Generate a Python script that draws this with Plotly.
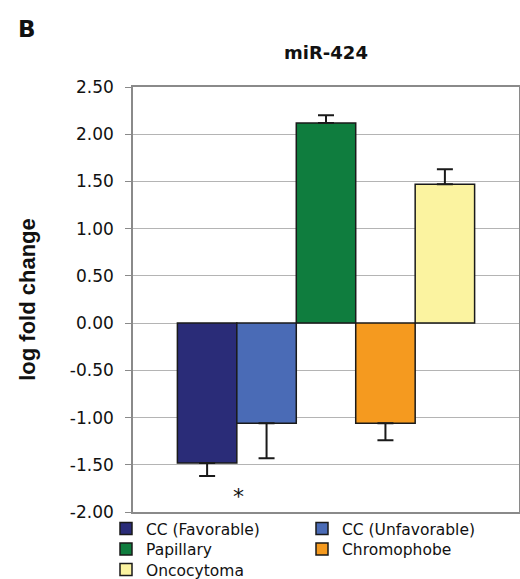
import plotly.graph_objects as go

groups = ["CC (Favorable)", "CC (Unfavorable)", "Papillary", "Chromophobe", "Oncocytoma"]
values = [-1.48, -1.06, 2.12, -1.06, 1.47]
errors = [0.14, 0.37, 0.08, 0.18, 0.16]
colors = ["#2a2c78", "#4a6bb6", "#0f7d3e", "#f59a1f", "#fbf3a0"]
legend_rows = ["legend", "legend", "legend2", "legend2", "legend3"]
tick_vals = [-2.0, -1.5, -1.0, -0.5, 0.0, 0.5, 1.0, 1.5, 2.0, 2.5]
tick_text = ["%.2f" % v for v in tick_vals]

W, H = 520, 579
L, T, PW, PH = 133, 87, 386, 425
fig = go.Figure()
for g, v, e, c, lg in zip(groups, values, errors, colors, legend_rows):
    up = e if v > 0 else 0
    down = e if v < 0 else 0
    fig.add_trace(go.Bar(
        x=["miR-424"], y=[v], name=g, legend=lg,
        marker=dict(color=c, line=dict(color="#1a1a1a", width=1.5)),
        error_y=dict(type="data", symmetric=False, array=[up], arrayminus=[down],
                     color="#1a1a1a", thickness=2, width=8),
    ))

fig.add_annotation(text="*", xref="paper", yref="y", x=(231 - L) / PW, y=-1.84,
                   showarrow=False, font=dict(size=22, color="#111", family="DejaVu Sans"))
fig.add_annotation(text="<b>B</b>", xref="paper", yref="paper",
                   x=(27 - L) / PW, y=(T + PH - 29) / PH,
                   xanchor="center", yanchor="middle", showarrow=False,
                   font=dict(size=23, color="#111", family="DejaVu Sans"))

legend_font = dict(size=15.5, family="DejaVu Sans", color="#111")
common = dict(orientation="h", xref="paper", yref="paper", x=(106 - L) / PW,
              xanchor="left", yanchor="middle", entrywidth=151, entrywidthmode="pixels",
              font=legend_font, itemclick=False, itemdoubleclick=False,
              bgcolor="rgba(0,0,0,0)")

fig.update_layout(
    width=W, height=H,
    margin=dict(l=L, r=W - L - PW, t=T, b=H - T - PH, autoexpand=False),
    paper_bgcolor="white", plot_bgcolor="white",
    font=dict(family="DejaVu Sans, Liberation Sans, sans-serif", color="#111", size=17),
    title=dict(text="<b>miR-424</b>", x=326 / W, xanchor="center", y=1 - 53 / H, yanchor="middle",
               font=dict(size=18, family="DejaVu Sans")),
    barmode="group", bargap=0.23, bargroupgap=0,
    showlegend=True,
    legend=dict(common, y=(T + PH - 529) / PH),
    legend2=dict(common, y=(T + PH - 549.5) / PH),
    legend3=dict(common, y=(T + PH - 570) / PH),
    xaxis=dict(showticklabels=False, ticks="", showline=True, linecolor="#8a8a8a",
               linewidth=1.5, mirror=True, showgrid=False, range=[-0.5, 0.5]),
    yaxis=dict(range=[-2.0, 2.5], tickvals=tick_vals, ticktext=tick_text,
               showgrid=True, gridcolor="#b4b4b4", gridwidth=1,
               showline=True, linecolor="#8a8a8a", linewidth=1.5, mirror=True,
               ticks="outside", ticklen=6, tickcolor="#8a8a8a", ticklabelstandoff=8,
               tickfont=dict(size=17, family="DejaVu Sans", color="#111"),
               zeroline=False,
               title=dict(text="<b>log fold change</b>",
                          font=dict(size=22, family="Liberation Sans, Arial, sans-serif"),
                          standoff=28)),
)

fig.write_html("out.html", config={"displayModeBar": False},
               post_script="document.body.style.margin='0';")
